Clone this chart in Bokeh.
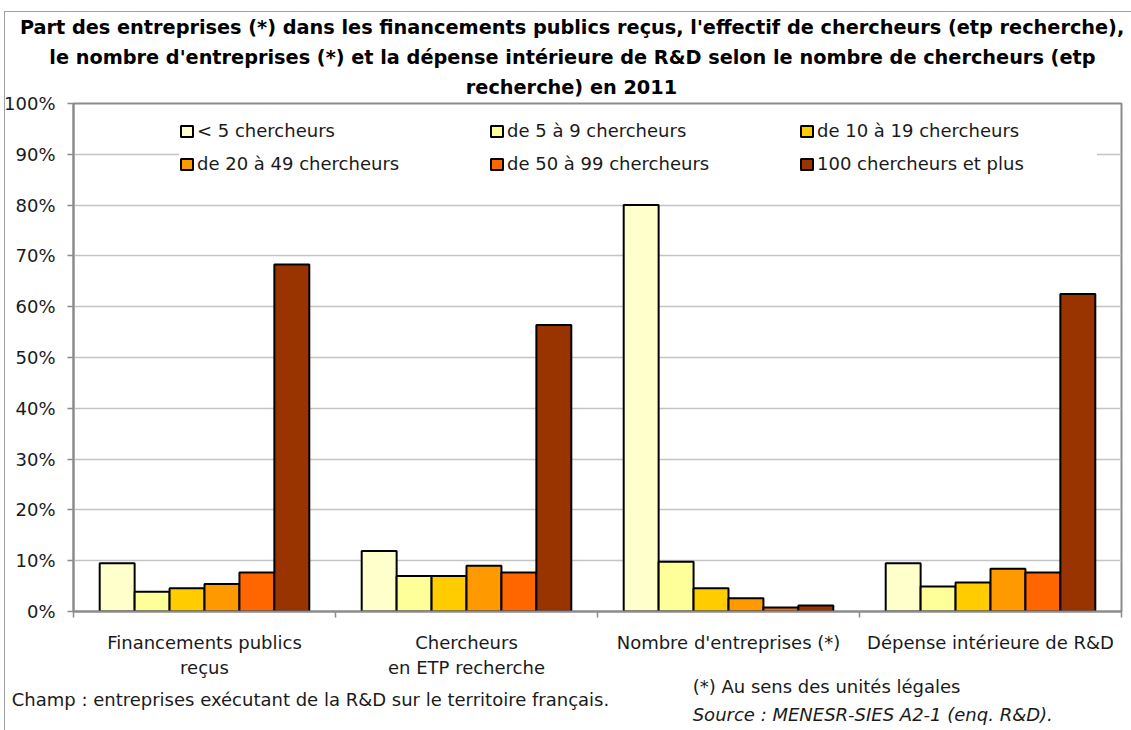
import html
from bokeh.plotting import figure
from bokeh.layouts import column
from bokeh.models import Range1d, FixedTicker, Legend, LegendItem, Title, ColumnDataSource, Div
from bokeh.embed import file_html
from bokeh.resources import INLINE

# ---------------- data ----------------
categories = ["Financements publics\nreçus", "Chercheurs\nen ETP recherche",
              "Nombre d'entreprises (*)", "Dépense intérieure de R&D"]
series_names = ["< 5 chercheurs", "de 5 à 9 chercheurs", "de 10 à 19 chercheurs",
                "de 20 à 49 chercheurs", "de 50 à 99 chercheurs", "100 chercheurs et plus"]
lt5 = [9.5, 11.9, 80.0, 9.5]
s5_9 = [3.9, 7.0, 9.8, 4.9]
s10_19 = [4.6, 7.0, 4.6, 5.7]
s20_49 = [5.4, 9.0, 2.6, 8.4]
s50_99 = [7.7, 7.7, 0.8, 7.7]
s100 = [68.3, 56.4, 1.2, 62.5]
series_values = [lt5, s5_9, s10_19, s20_49, s50_99, s100]
colors = ["#FFFFCC", "#FFFF99", "#FFCC00", "#FF9900", "#FF6600", "#993300"]
y_ticks = [0, 10, 20, 30, 40, 50, 60, 70, 80, 90, 100]
y_tick_labels = ["0%", "10%", "20%", "30%", "40%", "50%", "60%", "70%", "80%", "90%", "100%"]
title_lines = [
    "Part des entreprises (*) dans les financements publics reçus, l'effectif de chercheurs (etp recherche),",
    "le nombre d'entreprises (*) et la dépense intérieure de R&D selon le nombre de chercheurs (etp",
    "recherche) en 2011",
]
note_champ = "Champ : entreprises exécutant de la R&D sur le territoire français."
note_unites = "(*) Au sens des unités légales"
note_source = "Source : MENESR-SIES A2-1 (enq. R&D)."

FONT = "DejaVu Sans"
TXT = "#1a1a1a"
FS = "18px"
GRAY = "#8c8c8c"
EDGE = "#a0a0a0"

n = len(categories)
W = 1131
H_MAIN = 680
H_NOTES = 50

p = figure(width=W, height=H_MAIN, output_backend="svg", toolbar_location=None,
           x_range=Range1d(0, n), y_range=Range1d(0, 100),
           min_border_left=73, min_border_right=10, min_border_top=103, min_border_bottom=69)
p.background_fill_color = "white"
p.border_fill_color = "white"
p.border_fill_alpha = 0
p.outline_line_color = GRAY
p.outline_line_width = 2
# thin outer frame of the original picture (top and left edges)
p.styles = {"background": (f"linear-gradient({EDGE},{EDGE}) 4px 11px / 1px {H_MAIN - 11}px no-repeat, "
                           f"linear-gradient({EDGE},{EDGE}) 4px 11px / {W - 4}px 1px no-repeat, white")}

# y axis
p.yaxis.ticker = FixedTicker(ticks=y_ticks)
p.yaxis.major_label_overrides = dict(zip(y_ticks, y_tick_labels))
p.yaxis.major_label_text_font = FONT
p.yaxis.major_label_text_font_size = FS
p.yaxis.major_label_text_color = TXT
p.yaxis.major_label_standoff = 12
p.yaxis.major_tick_out = 6
p.yaxis.major_tick_in = 0
p.yaxis.minor_tick_out = 0
p.yaxis.minor_tick_in = 0
p.yaxis.axis_line_color = GRAY
p.yaxis.axis_line_width = 2
p.yaxis.major_tick_line_color = GRAY
p.yaxis.major_tick_line_width = 1.5

# x axis: category names at group centres, separator ticks between groups
centres = [i + 0.5 for i in range(n)]
p.xaxis.ticker = FixedTicker(ticks=centres, minor_ticks=list(range(n + 1)))
p.xaxis.major_label_overrides = dict(zip(centres, categories))
p.xaxis.major_label_text_font = FONT
p.xaxis.major_label_text_font_size = FS
p.xaxis.major_label_text_color = TXT
p.xaxis.major_label_standoff = 14
p.xaxis.major_tick_out = 6
p.xaxis.major_tick_in = 0
p.xaxis.major_tick_line_color = None
p.xaxis.minor_tick_out = 6
p.xaxis.minor_tick_in = 0
p.xaxis.minor_tick_line_color = GRAY
p.xaxis.minor_tick_line_width = 1.5
p.xaxis.axis_line_color = GRAY
p.xaxis.axis_line_width = 2

p.xgrid.visible = False
p.ygrid.ticker = FixedTicker(ticks=y_ticks)
p.ygrid.grid_line_color = "#c4c4c4"
p.ygrid.grid_line_width = 1.5

# bars
group_w = 0.8
bar_w = group_w / len(series_values)
renderers = []
for j, (vals, col) in enumerate(zip(series_values, colors)):
    xs = [i + (1 - group_w) / 2 + (j + 0.5) * bar_w for i in range(n)]
    src = ColumnDataSource(dict(x=xs, top=vals))
    r = p.vbar(x="x", top="top", bottom=0, width=bar_w, source=src,
               fill_color=col, line_color="black", line_width=2)
    renderers.append(r)

legend = Legend(items=[LegendItem(label=nm, renderers=[r]) for nm, r in zip(series_names, renderers)],
                orientation="horizontal", ncols=3,
                location=(106, 437), glyph_width=15, glyph_height=14, label_standoff=3,
                label_width=280, label_height=20, spacing=12, padding=8, margin=0,
                border_line_color=None, background_fill_color="white", background_fill_alpha=1,
                label_text_font=FONT, label_text_font_size=FS, label_text_color=TXT)
p.add_layout(legend)

# title: three lines, the one nearest the plot added first
title_offsets = [-53.6, -24.2, 392.3]
for line, off in reversed(list(zip(title_lines, title_offsets))):
    p.add_layout(Title(text=line, align="left", offset=off, standoff=5, vertical_align="top",
                       text_font=FONT, text_font_style="bold", text_font_size="19.3px",
                       text_color="black"), "above")

# footnotes strip below the chart (left / baseline in page pixels)
notes = [(note_unites, 692.7, 693.3, "normal"),
         (note_champ, 11.7, 706.0, "normal"),
         (note_source, 692.7, 720.7, "italic")]
spans = "".join(
    f'<span style="position:absolute;left:{x}px;top:{base - H_MAIN - 15.2:.1f}px;'
    f'white-space:nowrap;font-style:{st}">{html.escape(t)}</span>'
    for t, x, base, st in notes)
notes_div = Div(text=f'<div style="position:relative;width:{W}px;height:{H_NOTES}px;'
                     f'font-family:\'DejaVu Sans\';font-size:18px;line-height:18px;'
                     f'color:{TXT};overflow:visible">{spans}</div>',
                width=W, height=H_NOTES,
                styles={"margin": "0", "padding": "0", "overflow": "visible",
                        "background": f"linear-gradient({EDGE},{EDGE}) 4px 0 / 1px {H_NOTES}px no-repeat, white"})

layout = column(p, notes_div, spacing=0)
open("out.html", "w").write(file_html(layout, INLINE))
